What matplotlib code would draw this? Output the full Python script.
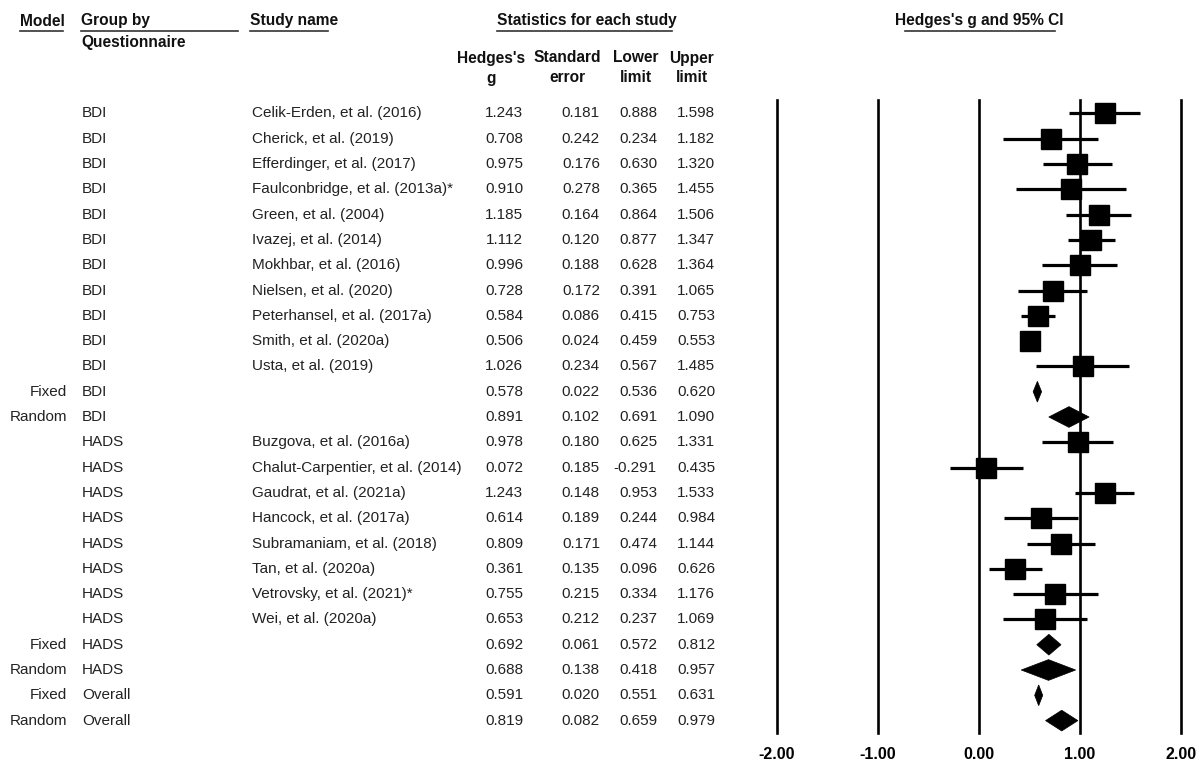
import matplotlib
matplotlib.use("Agg")
import matplotlib.pyplot as plt
from matplotlib.lines import Line2D
from matplotlib.patches import Polygon
import matplotlib.transforms as mtransforms

plt.rcParams['font.family'] = ['Liberation Sans', 'DejaVu Sans']

# rows of the forest plot, top to bottom
models = [''] * 11 + ['Fixed', 'Random'] + [''] * 8 + ['Fixed', 'Random', 'Fixed', 'Random']
groups = ['BDI'] * 13 + ['HADS'] * 10 + ['Overall'] * 2
studies = [
    'Celik-Erden, et al. (2016)', 'Cherick, et al. (2019)', 'Efferdinger, et al. (2017)',
    'Faulconbridge, et al. (2013a)*', 'Green, et al. (2004)', 'Ivazej, et al. (2014)',
    'Mokhbar, et al. (2016)', 'Nielsen, et al. (2020)', 'Peterhansel, et al. (2017a)',
    'Smith, et al. (2020a)', 'Usta, et al. (2019)', '', '',
    'Buzgova, et al. (2016a)', 'Chalut-Carpentier, et al. (2014)', 'Gaudrat, et al. (2021a)',
    'Hancock, et al. (2017a)', 'Subramaniam, et al. (2018)', 'Tan, et al. (2020a)',
    'Vetrovsky, et al. (2021)*', 'Wei, et al. (2020a)', '', '', '', '',
]
hedges_g = [1.243, 0.708, 0.975, 0.910, 1.185, 1.112, 0.996, 0.728, 0.584, 0.506, 1.026,
            0.578, 0.891,
            0.978, 0.072, 1.243, 0.614, 0.809, 0.361, 0.755, 0.653,
            0.692, 0.688, 0.591, 0.819]
std_err = [0.181, 0.242, 0.176, 0.278, 0.164, 0.120, 0.188, 0.172, 0.086, 0.024, 0.234,
           0.022, 0.102,
           0.180, 0.185, 0.148, 0.189, 0.171, 0.135, 0.215, 0.212,
           0.061, 0.138, 0.020, 0.082]
lower = [0.888, 0.234, 0.630, 0.365, 0.864, 0.877, 0.628, 0.391, 0.415, 0.459, 0.567,
         0.536, 0.691,
         0.625, -0.291, 0.953, 0.244, 0.474, 0.096, 0.334, 0.237,
         0.572, 0.418, 0.551, 0.659]
upper = [1.598, 1.182, 1.320, 1.455, 1.506, 1.347, 1.364, 1.065, 0.753, 0.553, 1.485,
         0.620, 1.090,
         1.331, 0.435, 1.533, 0.984, 1.144, 0.626, 1.176, 1.069,
         0.812, 0.957, 0.631, 0.979]
axis_ticks = [-2, -1, 0, 1, 2]

W, H = 1203, 761
fig = plt.figure(figsize=(W / 100, H / 100), dpi=100)
ax = fig.add_axes([777 / W, 1 - 733 / H, 404 / W, 633 / H])
n = len(hedges_g)
ax.set_xlim(-2, 2)
ax.set_ylim(n - 1 + 0.49, -0.53)
for s in ax.spines.values():
    s.set_visible(False)
ax.set_yticks([])
ax.set_xticks(axis_ticks)
ax.set_xticklabels([f'{t:.2f}' for t in axis_ticks], fontsize=11.5, fontweight='bold')
ax.tick_params(axis='x', length=0, pad=10)
for t in axis_ticks:
    ax.axvline(t, color='black', lw=1.9, zorder=1, clip_on=False)

# studies: square + CI line; pooled rows: diamonds
for i in range(n):
    if models[i]:
        dy = 0.41
        ax.add_patch(Polygon([(lower[i], i), (hedges_g[i], i - dy), (upper[i], i),
                              (hedges_g[i], i + dy)], closed=True,
                             facecolor='black', edgecolor='black', lw=0.5, zorder=3))
    else:
        ax.plot([lower[i], upper[i]], [i, i], color='black', lw=2.3, zorder=2,
                solid_capstyle='butt')
        ax.plot(hedges_g[i], i, marker='s', markersize=14.4, color='black', zorder=3)

# text columns left of the plot
tr = mtransforms.blended_transform_factory(fig.transFigure, ax.transData)
txt = dict(fontsize=11, color='#222222', va='center', transform=tr)
for i in range(n):
    ax.text(67 / W, i, models[i], ha='right', **txt)
    ax.text(82 / W, i, groups[i], ha='left', **txt)
    ax.text(252 / W, i, studies[i], ha='left', **txt)
    ax.text(523 / W, i, f'{hedges_g[i]:.3f}', ha='right', **txt)
    ax.text(600 / W, i, f'{std_err[i]:.3f}', ha='right', **txt)
    ax.text(657 / W, i, f'{lower[i]:.3f}', ha='right', **txt)
    ax.text(715 / W, i, f'{upper[i]:.3f}', ha='right', **txt)

# headers
hdr = dict(fontsize=11.2, fontweight='bold', color='#111111', va='center')
def fx(px):
    return px / W
def fy(py):
    return 1 - py / H

fig.text(fx(20), fy(21), 'Model', ha='left', **hdr)
fig.text(fx(81), fy(21), 'Group by', ha='left', **hdr)
fig.text(fx(81), fy(43), 'Questionnaire', ha='left', **hdr)
fig.text(fx(250), fy(21), 'Study name', ha='left', **hdr)
fig.text(fx(587), fy(21), 'Statistics for each study', ha='center', **hdr)
fig.text(fx(979), fy(21), "Hedges's g and 95% CI", ha='center', **hdr)

col_heads = [("Hedges's", 'g', 491), ('Standard', 'error', 567), ('Lower', 'limit', 636), ('Upper', 'limit', 692)]
for top, bottom, cx in col_heads:
    fig.text(fx(cx), fy(58), top, ha='center', **hdr)
    fig.text(fx(cx), fy(78), bottom, ha='center', **hdr)

# header underlines
for x0, x1 in [(20, 63), (81, 238), (250, 328), (497, 672), (905, 1055)]:
    fig.add_artist(Line2D([fx(x0), fx(x1)], [fy(31), fy(31)], color='#333333', lw=1.2))

fig.savefig('out.png', dpi=100, facecolor='white')
